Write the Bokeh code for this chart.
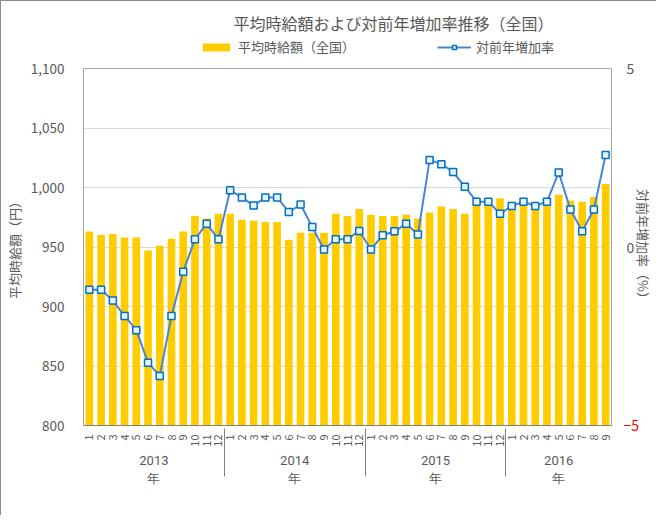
import math
from bokeh.plotting import figure
from bokeh.layouts import column
from bokeh.models import (FactorRange, Range1d, LinearAxis, FixedTicker, NumeralTickFormatter,
                          Legend, LegendItem, Label, ColumnDataSource)
from bokeh.embed import file_html
from bokeh.resources import INLINE

years = ["2013", "2014", "2015", "2016"]
months_per_year = [12, 12, 12, 9]
wage = [963, 960, 961, 958, 958, 947, 951, 957, 963, 976, 974, 978,
        978, 973, 972, 971, 971, 956, 962, 962, 962, 978, 976, 982,
        977, 976, 976, 977, 974, 979, 984, 982, 978, 987, 987, 991,
        988, 987, 986, 987, 994, 989, 988, 992, 1003]
growth = [-1.20, -1.20, -1.50, -1.93, -2.33, -3.24, -3.61, -1.93, -0.69, 0.22, 0.65, 0.22,
          1.59, 1.39, 1.16, 1.39, 1.39, 0.98, 1.19, 0.56, -0.07, 0.22, 0.22, 0.45,
          -0.07, 0.33, 0.44, 0.65, 0.35, 2.44, 2.32, 2.10, 1.69, 1.27, 1.27, 0.93,
          1.15, 1.27, 1.15, 1.27, 2.09, 1.05, 0.44, 1.05, 2.58]
left_ticks = [800, 850, 900, 950, 1000, 1050, 1100]
right_ticks = [-5, 0, 5]
title_text = "平均時給額および対前年増加率推移（全国）"
bar_name = "平均時給額（全国）"
line_name = "対前年増加率"

factors = []
for y, n in zip(years, months_per_year):
    for m in range(1, n + 1):
        factors.append((y + "\n年", str(m)))

src = ColumnDataSource(dict(x=factors, wage=wage, growth=growth))

FONT = "Noto Sans CJK JP"
GRAY = "#595959"
BAR_COLOR = "#FFCC00"
LINE_COLOR = "#4A86CF"
MARK_LINE = "#0070C0"
MARK_FILL = "#E8F4FF"

W = 655
TOP_H = 56
MAIN_H = 458

# ---------- header (title + legend) ----------
# The header's renderers use the real data, but its y range lies far above it,
# so they draw nothing and only feed the legend swatches.
top = figure(width=W, height=TOP_H, output_backend="svg", toolbar_location=None,
             x_range=FactorRange(*factors, range_padding=0, factor_padding=0, group_padding=0),
             y_range=Range1d(100000, 100001),
             x_axis_type=None, y_axis_type=None,
             min_border_left=75, min_border_right=0, min_border_top=0, min_border_bottom=0)
top.outline_line_color = None
top.add_layout(Label(x=150, y=TOP_H - 21, x_units="screen", y_units="screen",
                     text=title_text, text_font=FONT,
                     text_font_size="16px", text_color=GRAY,
                     text_baseline="middle", text_align="left"))
lb = top.vbar(x="x", top="wage", bottom=0, width=0.65, source=src,
              fill_color=BAR_COLOR, line_color=None)
ll = top.line(x="x", y="growth", source=src, line_color=LINE_COLOR, line_width=2)
lm = top.scatter(x="x", y="growth", source=src, marker="square", size=7,
                 fill_color=MARK_FILL, line_color=MARK_LINE, line_width=1.5)
legend = Legend(items=[LegendItem(label=bar_name, renderers=[lb]),
                       LegendItem(label=line_name, renderers=[ll, lm])],
                orientation="horizontal", location=(116, 1),
                label_text_font=FONT, label_text_font_size="13px", label_text_color=GRAY,
                glyph_width=34, glyph_height=10, spacing=82, border_line_color=None,
                background_fill_alpha=0, padding=2, margin=0)
top.add_layout(legend, "center")

# ---------- main chart ----------
p = figure(width=W, height=MAIN_H, output_backend="svg", toolbar_location=None,
           x_range=FactorRange(*factors, range_padding=0, factor_padding=0, group_padding=0),
           y_range=Range1d(800, 1100),
           min_border_left=75, min_border_right=10, min_border_top=11, min_border_bottom=90)
p.extra_y_ranges = {"pct": Range1d(-5, 5)}

p.outline_line_color = "#A6A6A6"
p.xgrid.grid_line_color = None
p.ygrid.grid_line_color = "#D9D9D9"
p.ygrid.ticker = FixedTicker(ticks=left_ticks)

p.vbar(x="x", top="wage", bottom=0, width=0.65, source=src,
       fill_color=BAR_COLOR, line_color=None)
p.line(x="x", y="growth", source=src, y_range_name="pct",
       line_color=LINE_COLOR, line_width=2)
p.scatter(x="x", y="growth", source=src, y_range_name="pct", marker="square",
          size=7, fill_color=MARK_FILL, line_color=MARK_LINE, line_width=1.5)

# left axis
ya = p.yaxis[0]
ya.ticker = FixedTicker(ticks=left_ticks)
ya.formatter = NumeralTickFormatter(format="0,0")
ya.axis_label = "平均時給額（円）"
ya.axis_label_text_font = FONT
ya.axis_label_text_font_size = "13px"
ya.axis_label_text_font_style = "normal"
ya.axis_label_text_color = GRAY
ya.axis_label_standoff = 4
ya.major_label_text_font = FONT
ya.major_label_text_font_size = "13.5px"
ya.major_label_text_color = GRAY
ya.axis_line_color = None
ya.major_tick_line_color = None
ya.minor_tick_line_color = None
ya.major_label_standoff = 13

# right axes: red "-5" (inner) and gray 0 / 5 with the title (outer)
ra_neg = LinearAxis(y_range_name="pct", ticker=FixedTicker(ticks=right_ticks[:1]))
ra_neg.major_label_text_font = FONT
ra_neg.major_label_text_font_size = "14px"
ra_neg.major_label_text_color = "#FF0000"
ra_neg.major_label_standoff = 12
ra_neg.axis_line_color = None
ra_neg.major_tick_line_color = None
ra_neg.minor_tick_line_color = None
ra_neg.major_tick_out = 0
ra_neg.major_tick_in = 0
p.add_layout(ra_neg, "right")

ra = LinearAxis(y_range_name="pct", ticker=FixedTicker(ticks=right_ticks[1:]))
ra.axis_label = "対前年増加率（%）"
ra.axis_label_text_font = FONT
ra.axis_label_text_font_size = "13px"
ra.axis_label_text_font_style = "normal"
ra.axis_label_text_color = GRAY
ra.axis_label_standoff = -3
ra.major_label_text_font = FONT
ra.major_label_text_font_size = "14px"
ra.major_label_text_color = GRAY
ra.axis_line_color = None
ra.major_tick_line_color = None
ra.minor_tick_line_color = None
ra.major_tick_out = 0
ra.major_tick_in = 0
ra.major_label_standoff = -16
p.add_layout(ra, "right")

# bottom axis
xa = p.xaxis[0]
xa.major_label_orientation = math.pi / 2
xa.major_label_text_font = FONT
xa.major_label_text_font_size = "11px"
xa.major_label_text_color = GRAY
xa.major_label_standoff = 3
xa.major_tick_line_color = None
xa.axis_line_color = "#7F7F7F"
xa.group_text_font = "Roboto"
xa.group_text_font_size = "13px"
xa.group_text_font_style = "normal"
xa.group_text_color = GRAY
xa.group_label_orientation = "horizontal"
xa.separator_line_color = "#7F7F7F"
xa.separator_line_width = 1

layout = column(top, p, styles={"border-left": "1px solid #8C8C8C",
                                "border-top": "1px solid #8C8C8C"})

open("out.html", "w").write(file_html(layout, INLINE))
